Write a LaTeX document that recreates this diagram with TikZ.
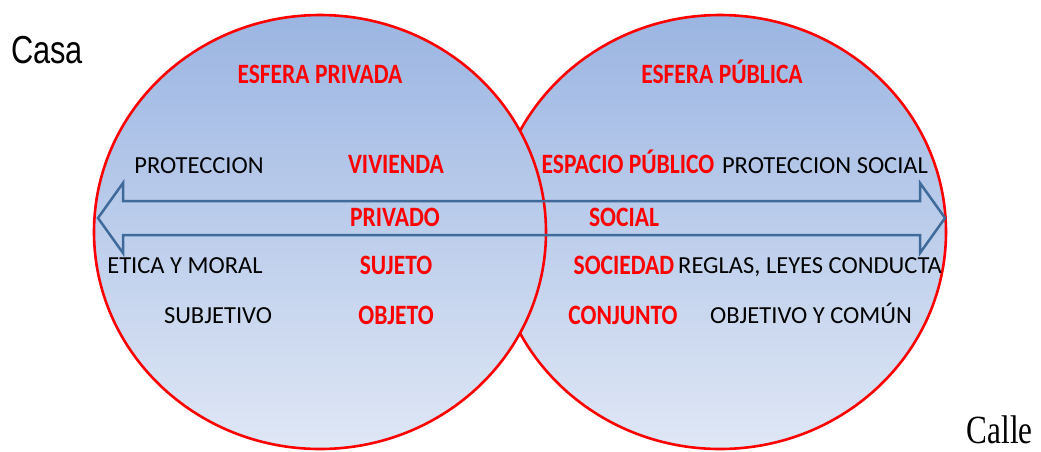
\documentclass[tikz,border=0pt]{standalone}
\usepackage{fontspec}
\usepackage{tikz}
\setmainfont{Carlito}
\newfontfamily\rojofont[FakeStretch=0.84]{Carlito}
\newfontfamily\casafont[FakeStretch=0.79]{Liberation Sans}
\newfontfamily\callefont[FakeStretch=0.78]{Liberation Serif}
\definecolor{fondoarriba}{RGB}{155,181,226}
\definecolor{fondoabajo}{RGB}{223,231,245}
\definecolor{flecha}{RGB}{63,106,154}
\tikzset{
  esfera/.style={draw=red, line width=2.6pt, top color=fondoarriba, bottom color=fondoabajo},
  rojo/.style={text=red, anchor=base, inner sep=0pt, font=\rojofont\bfseries\fontsize{28}{30}\selectfont},
  negro/.style={text=black, anchor=base, inner sep=0pt, font=\fontsize{24.5}{28}\selectfont}
}

\begin{document}
\begin{tikzpicture}[x=1pt,y=-1pt]
    \pgfmathsetmacro{\rx}{226}
    \pgfmathsetmacro{\ry}{217}
    \pgfmathsetmacro{\cy}{232}
    \pgfmathsetmacro{\ya}{201}
    \pgfmathsetmacro{\yb}{235}
    \useasboundingbox (0,0) rectangle (1041,451);
    % Draw the spheres
    \path [esfera] (720,\cy) ellipse [x radius=\rx, y radius=\ry];
    \path [esfera] (320,\cy) ellipse [x radius=\rx, y radius=\ry];

    % Draw the double arrow
    \draw [flecha, line width=2.5pt, line join=miter] (98,218) -- (123,183) -- (123,\ya) --
        (920,\ya) -- (920,183) -- (945,218) -- (920,253) -- (920,\yb) --
        (123,\yb) -- (123,253) -- cycle;

    % Texts of the private sphere
    \node [rojo] (esfpriv) at (320,83) {ESFERA PRIVADA};
    \node [negro] (proteccion) at (199,173) {PROTECCION};
    \node [rojo] (vivienda) at (396,173) {VIVIENDA};
    \node [rojo] (privado) at (395,226) {PRIVADO};
    \node [negro] (etica) at (185,273) {ETICA Y MORAL};
    \node [rojo] (sujeto) at (396,274) {SUJETO};
    \node [negro] (subjetivo) at (218,323) {SUBJETIVO};
    \node [rojo] (objeto) at (396,324) {OBJETO};

    % Texts of the public sphere
    \node [rojo] (esfpub) at (722,83) {ESFERA PÚBLICA};
    \node [rojo] (espacio) at (628,173) {ESPACIO PÚBLICO};
    \node [negro] (protsocial) at (825,173) {PROTECCION SOCIAL};
    \node [rojo] (social) at (624,226) {SOCIAL};
    \node [rojo] (sociedad) at (624,274) {SOCIEDAD};
    \node [negro] (reglas) at (810,273) {REGLAS, LEYES CONDUCTA};
    \node [rojo] (conjunto) at (623,324) {CONJUNTO};
    \node [negro] (objetivo) at (811,323) {OBJETIVO Y COMÚN};

    % Outside labels
    \node [anchor=base west, inner sep=0pt, font=\casafont\fontsize{39}{42}\selectfont] (casa) at (11,63) {Casa};
    \node [anchor=base east, inner sep=0pt, font=\callefont\fontsize{40}{44}\selectfont] (calle) at (1033,443) {Calle};
\end{tikzpicture}
\end{document}
